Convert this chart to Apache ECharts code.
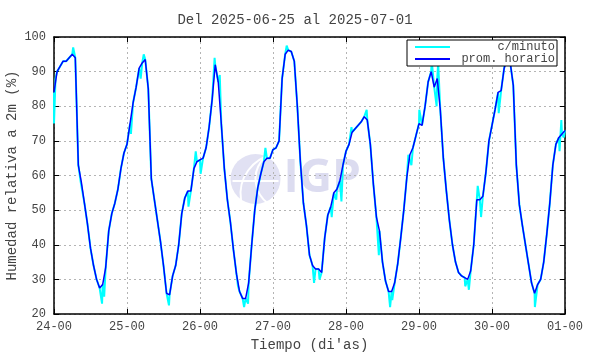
<!DOCTYPE html>
<html>
<head>
<meta charset="utf-8">
<script src="https://cdn.jsdelivr.net/npm/echarts@6/dist/echarts.min.js"></script>
<style>html,body{margin:0;padding:0;background:#fff}#grafico{width:590px;height:354px}</style>
</head>
<body>
<div id="grafico"></div>
<script>
// etiquetas del eje x (una por dia)
var etiquetasDias = ['24-00','25-00','26-00','27-00','28-00','29-00','30-00','01-00'];

// humedad relativa, promedio horario (hora 0 .. 168)
var promHorario = [
  84, 90, 91.5, 93, 93, 94, 95, 94, 63, 58,
  52, 46, 39, 34, 30, 27.5, 28.5, 33.5, 44, 49,
  52, 56, 62, 66.5, 69, 75, 81, 85.5, 91, 92.5,
  93.5, 85, 59, 53, 47, 41, 34, 26, 25.5, 31,
  34, 40, 49, 53.5, 55.5, 55.5, 62, 64, 64.5, 65,
  68, 74, 82, 92, 87, 75, 62, 53, 46.5, 38.5,
  31.5, 26.5, 24.5, 24.5, 29, 40, 50, 56.5, 60.5, 64,
  65, 65, 67.5, 68, 70, 88, 95, 96.2, 95.8, 93,
  80, 64, 52, 45.5, 37, 34, 33, 33, 32, 42,
  48.5, 51, 55, 56, 58.5, 63, 67, 69, 72.5, 73.5,
  74.5, 75.5, 77, 76, 69, 57.5, 48, 44, 35, 29.5,
  26.5, 26.5, 29, 34.5, 42, 50, 59.5, 66, 68, 71.5,
  75, 74.5, 80, 87, 90, 85.5, 88, 79, 65, 55.5,
  47, 40, 35, 32, 31, 30.5, 30, 32.5, 40, 53,
  53, 54, 61, 70, 74.5, 79, 84, 84.5, 91, 93.5,
  92.5, 86, 63, 51.5, 45.5, 40, 34.5, 29, 26, 28.5,
  30, 35, 43, 52, 63, 69, 71, 72, 73
];

// valores por minuto que se salen del promedio: [hora, humedad]
var picosMinuto = [
  [0, 75], [0.5, 88], [6.3, 97], [8.8, 58], [15.8, 23], [16.5, 25],
  [25.3, 72], [28.5, 88], [29.5, 95], [37.8, 22.5],
  [44.2, 51], [46.6, 67], [48.2, 60.5], [52.8, 94], [54.5, 89],
  [60.5, 28], [62.5, 22], [63.8, 23], [69.5, 68], [76.5, 97.5],
  [85.5, 29], [87.3, 30],
  [91.3, 48], [92.8, 53], [94.5, 52.5], [97.8, 74], [102.8, 79],
  [106.8, 37], [110.5, 22], [111.2, 24], [116.5, 66], [117.5, 63],
  [120.1, 79], [124.2, 93], [125.8, 80], [126.3, 92.5],
  [135.2, 28], [136.4, 27], [139.3, 57], [140.4, 48], [146.2, 78],
  [148.5, 96], [158.1, 22], [166.2, 67], [166.8, 76], [167.6, 71]
];

var datosHorario = promHorario.map(function (v, i) { return [i, v]; });
var datosMinuto = datosHorario.concat(picosMinuto).sort(function (a, b) { return a[0] - b[0]; });

var fuente = 'Liberation Mono';
var colorTexto = '#444';
var myChart = echarts.init(document.getElementById('grafico'));

var ejeX = function (pos, etiquetas) {
  return {
    type: 'value', position: pos, min: 0, max: 168, interval: 24,
    axisLine: { show: true, onZero: false, lineStyle: { color: '#000', width: 1.5 } },
    axisTick: { show: true, inside: true, length: 5, lineStyle: { color: '#000' } },
    axisLabel: {
      show: etiquetas, margin: 7, color: colorTexto, fontFamily: fuente, fontSize: 12,
      formatter: function (v) { return etiquetasDias[Math.round(v / 24)]; }
    },
    splitLine: { show: etiquetas, lineStyle: { color: '#b4b4b4', type: [2, 3], width: 1 } }
  };
};
var ejeY = function (pos, etiquetas) {
  return {
    type: 'value', position: pos, min: 20, max: 100, interval: 10,
    axisLine: { show: true, onZero: false, lineStyle: { color: '#000', width: 1.5 } },
    axisTick: { show: true, inside: true, length: 5, lineStyle: { color: '#000' } },
    axisLabel: { show: etiquetas, margin: 8, color: colorTexto, fontFamily: fuente, fontSize: 12 },
    splitLine: { show: etiquetas, lineStyle: { color: '#b4b4b4', type: [2, 3], width: 1 } }
  };
};

var xInf = ejeX('bottom', true);
xInf.name = "Tiempo (di'as)";
xInf.nameLocation = 'middle';
xInf.nameGap = 24;
xInf.nameMoveOverlap = false;
xInf.nameTextStyle = { color: colorTexto, fontFamily: fuente, fontSize: 14 };
var yIzq = ejeY('left', true);
yIzq.name = 'Humedad relativa a 2m (%)';
yIzq.nameLocation = 'middle';
yIzq.nameGap = 35;
yIzq.nameMoveOverlap = false;
yIzq.nameTextStyle = { color: colorTexto, fontFamily: fuente, fontSize: 14 };

var option = {
  backgroundColor: '#fff',
  animation: false,
  title: {
    text: 'Del 2025-06-25 al 2025-07-01',
    left: 'center', top: 8,
    textStyle: { color: colorTexto, fontFamily: fuente, fontSize: 14, fontWeight: 'normal' }
  },
  legend: {
    orient: 'vertical', right: 33, top: 40,
    backgroundColor: '#fff', borderColor: '#000', borderWidth: 1, borderRadius: 0,
    padding: [1, 2, 1, 8], itemGap: 0,
    icon: 'rect', itemWidth: 35, itemHeight: 2,
    data: ['c/minuto', 'prom. horario'],
    formatter: function (n) { return '{a|' + n + '}'; },
    textStyle: {
      color: colorTexto, fontFamily: fuente, fontSize: 12,
      rich: { a: { width: 100, align: 'right', fontFamily: fuente, fontSize: 12, lineHeight: 12, color: colorTexto } }
    }
  },
  grid: { left: 54, right: 25, top: 37, bottom: 40, outerBoundsMode: 'none' },
  xAxis: [xInf, ejeX('top', false)],
  yAxis: [yIzq, ejeY('right', false)],
  graphic: [
    {
      type: 'group', left: 230, top: 152, silent: true, z: 0,
      children: [
        { type: 'circle', shape: { cx: 25, cy: 25, r: 25 }, style: { fill: '#e1e1f3' } },
        { type: 'arc', shape: { cx: 55, cy: 25, r: 30, startAngle: Math.PI * 0.7, endAngle: Math.PI * 1.3 }, style: { stroke: '#fff', lineWidth: 2, fill: null } },
        { type: 'arc', shape: { cx: 50, cy: 40, r: 40, startAngle: Math.PI * 0.95, endAngle: Math.PI * 1.45 }, style: { stroke: '#fff', lineWidth: 2, fill: null } },
        { type: 'line', shape: { x1: 2, y1: 27, x2: 48, y2: 27 }, style: { stroke: '#fff', lineWidth: 2 } },
        { type: 'text', style: { x: 53, y: 25, text: 'IGP', fill: '#dcdcf0', font: 'bold 46px "Open Sans"', verticalAlign: 'middle' } }
      ]
    }
  ],
  series: [
    {
      name: 'c/minuto', type: 'line', xAxisIndex: 0, yAxisIndex: 0,
      data: datosMinuto, showSymbol: false, symbol: 'none',
      lineStyle: { color: '#00ffff', width: 2 }, itemStyle: { color: '#00ffff' }, z: 2
    },
    {
      name: 'prom. horario', type: 'line', xAxisIndex: 0, yAxisIndex: 0,
      data: datosHorario, showSymbol: false, symbol: 'none',
      lineStyle: { color: '#0000ff', width: 1.5 }, itemStyle: { color: '#0000ff' }, z: 3
    }
  ]
};

myChart.setOption(option);
</script>
</body>
</html>
